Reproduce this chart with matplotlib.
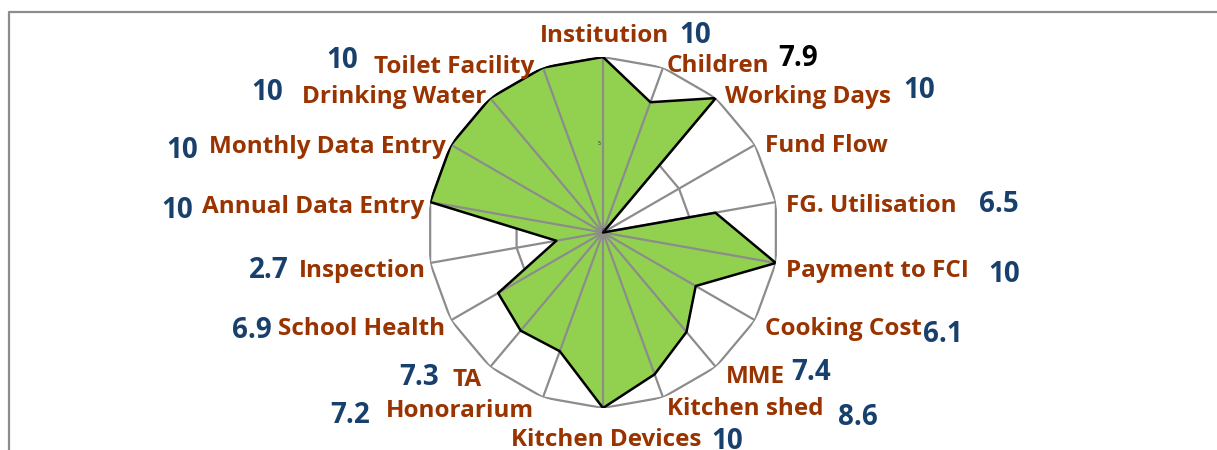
import numpy as np
import matplotlib
matplotlib.use("Agg")
import matplotlib.pyplot as plt
from matplotlib.lines import Line2D

# ---------------- data ----------------
categories = ["Institution", "Children", "Working Days", "Fund Flow", "FG. Utilisation",
              "Payment to FCI", "Cooking Cost", "MME", "Kitchen shed", "Kitchen Devices",
              "Honorarium", "TA", "School Health", "Inspection", "Annual Data Entry",
              "Monthly Data Entry", "Drinking Water", "Toilet Facility"]
values = [10, 7.9, 10, 0, 6.5, 10, 6.1, 7.4, 8.6, 10, 7.2, 7.3, 6.9, 2.7, 10, 10, 10, 10]
value_labels = ["10", "7.9", "10", "", "6.5", "10", "6.1", "7.4", "8.6", "10",
                "7.2", "7.3", "6.9", "2.7", "10", "10", "10", "10"]
r_ticks = [0, 5, 10]

# ---------------- layout (pixel positions: x centre, y baseline) ----------------
W, H = 1217, 450
cat_pos = [(605, 42), (718, 72), (808, 103), (826, 152), (871, 212), (877, 277),
           (843, 335), (755, 383), (745, 415), (606, 446), (460, 417), (467, 386),
           (362, 335), (362, 277), (313, 213), (327, 153), (394, 103), (454, 73)]
val_pos = [(695, 43), (798, 66), (919, 98), None, (999, 212), (1004, 282),
           (943, 342), (811, 380), (858, 425), (727, 449), (350, 423), (419, 385),
           (252, 338), (269, 278), (177, 218), (182, 158), (267, 100), (342, 68)]

BROWN = "#993300"
BLUE = "#17406D"
GREEN = "#92D050"
GRID = "#8C8C8C"
FONT = "Open Sans"

fig = plt.figure(figsize=(W / 100, H / 100), dpi=100)
fig.patch.set_facecolor("white")

cx, cy, R = 603, 232.5, 175.5
ax = fig.add_axes([(cx - R) / W, 1 - (cy + R) / H, 2 * R / W, 2 * R / H], projection="polar")
ax.set_theta_zero_location("N")
ax.set_theta_direction(-1)
ax.set_ylim(0, max(r_ticks))
ax.grid(False)
ax.set_xticks([])
ax.set_yticks([])
ax.spines["polar"].set_visible(False)
ax.patch.set_alpha(0)

n = len(categories)
theta = np.arange(n) * 2 * np.pi / n
theta_c = np.append(theta, theta[0])
vals_c = np.append(values, values[0])

# polygon rings (beneath the fill)
for rt in r_ticks[1:]:
    ax.plot(theta_c, [rt] * (n + 1), color=GRID, lw=1.6, zorder=1)

# filled area
ax.fill(theta_c, vals_c, color=GREEN, zorder=2, lw=0)

# spokes (above the fill)
for t in theta:
    ax.plot([t, t], [0, max(r_ticks)], color=GRID, lw=1.6, zorder=3, solid_capstyle="butt")

# outline
ax.plot(theta_c, vals_c, color="black", lw=1.8, zorder=4)

# tiny axis tick labels
for rt in r_ticks[:2]:
    ax.text(-0.04, rt + 0.1, str(rt), fontsize=3.5, color="#333333", ha="center", va="center", zorder=5)

# category labels
for lab, (x, y) in zip(categories, cat_pos):
    fig.text(x / W, 1 - y / H, lab, ha="center", va="baseline", fontsize=17.5,
             fontweight="bold", color=BROWN, family=FONT)

# value labels
for i, (lab, pos) in enumerate(zip(value_labels, val_pos)):
    if pos is None or not lab:
        continue
    col = "black" if categories[i] == "Children" else BLUE
    fig.text(pos[0] / W, 1 - pos[1] / H, lab, ha="center", va="baseline", fontsize=20,
             fontweight="bold", color=col, family=FONT)

# outer frame (partially visible)
fig.add_artist(Line2D([8.5 / W, 8.5 / W, 1.0], [0.0, 1 - 11.5 / H, 1 - 11.5 / H],
                      transform=fig.transFigure, color="#8C8C8C", lw=1.6))

fig.savefig("out.png", dpi=100, facecolor="white")
